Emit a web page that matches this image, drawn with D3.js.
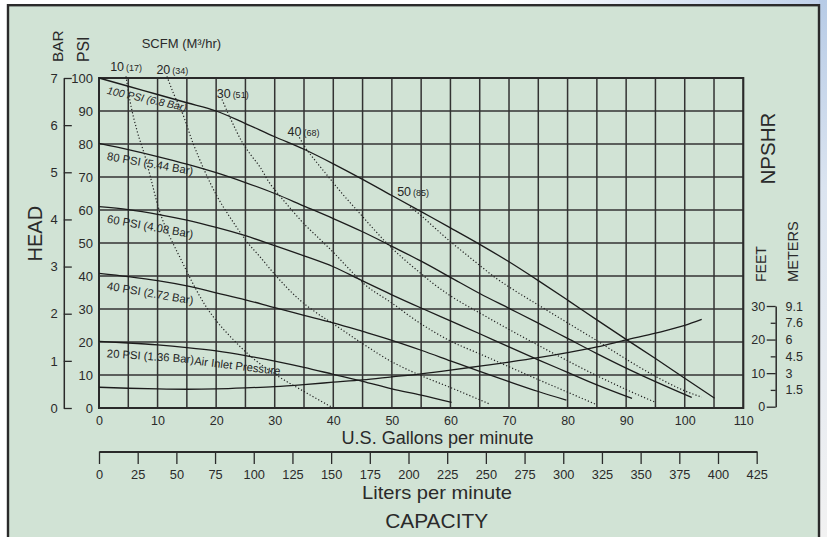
<!DOCTYPE html>
<html><head><meta charset="utf-8">
<script src="https://cdn.jsdelivr.net/npm/d3@7"></script>
<style>
html,body{margin:0;padding:0;background:#fff;}
svg{display:block;font-family:"Liberation Sans",Arial,Helvetica,sans-serif;}
</style></head><body>
<svg id="chart" width="827" height="537"></svg>
<script>
// ---------------- DATA ----------------
const gpmTicks   = [0,10,20,30,40,50,60,70,80,90,100,110];
const gpmGrid    = d3.range(0,111,5);
const literTicks = [0,25,50,75,100,125,150,175,200,225,250,275,300,325,350,375,400,425];
const psiTicks   = [0,10,20,30,40,50,60,70,80,90,100];
const barTicks   = [0,1,2,3,4,5,6,7];
const feetTicks  = [0,10,20,30];
const feetMinor  = [5,15,25];
const meterFeet  = [5,10,15,20,25,30];
const meterLbls  = ["1.5","3","4.5","6","7.6","9.1"];
const GAL_TO_L   = 3.785;

// head curves: [gpm, psi]
const psi100 = [[0,100],[5,97.5],[10,95],[15,92.5],[20,90],[25,86.2],[30,82.2],[35,78.4],[40,74],[45,69.3],[50,64.4],[55,59.5],[60,54.6],[65,49.6],[70,44.3],[75,38.6],[80,32.7],[85,26.7],[90,20.8],[95,15],[100,9],[105.1,3]];
const psi80  = [[0,80.2],[5,78.3],[10,76.2],[15,73.9],[20,71.3],[25,68.3],[30,65],[35,61.2],[40,57.4],[45,53.4],[50,49],[55,44.5],[60,39.6],[65,34.7],[70,30.2],[75,25.7],[80,21.1],[85,16.5],[90,12.1],[95,8],[101.2,3.2]];
const psi60  = [[0,61],[5,60.1],[10,58.7],[15,56.9],[20,54.7],[25,52.2],[30,49.2],[35,46.1],[40,42.8],[45,38.5],[50,34.3],[55,30.3],[60,26.4],[65,22.5],[70,18.5],[75,14.6],[80,10.8],[85,7],[91,2.9]];
const psi40  = [[0,40.8],[5,39.8],[10,38.6],[15,37],[20,34.9],[25,32.8],[30,30.4],[35,28.1],[40,25.8],[45,23.2],[50,20.5],[55,17.5],[60,14.3],[65,11.1],[70,8],[75,5],[79.8,2.4]];
const psi20  = [[0,20.2],[5,19.7],[10,19.1],[15,18.3],[20,17.3],[25,15.9],[30,14.2],[35,12.3],[40,10.2],[45,8.1],[50,5.8],[55,3.9],[60.2,1.7]];
// NPSHR: [gpm, feet]
const npshr  = [[0,5.8],[5,5.5],[10,5.3],[15,5.2],[20,5.3],[25,5.6],[30,6],[35,6.6],[40,7.3],[45,8],[50,8.9],[55,9.8],[60,10.9],[65,12.1],[70,13.3],[75,14.6],[80,16.1],[85,17.8],[90,19.9],[95,21.9],[100,24.2],[102.9,26]];
// air consumption curves: [gpm, psi]
const scfm10 = [[4.6,100.5],[5.3,93],[6.5,84],[7.9,76],[9,68.5],[10.1,61],[11.3,55],[12.6,50],[14,45],[15.8,38.5],[18,31.5],[20,26.5],[22.5,21.5],[26,15.5],[30,10.3],[35,5],[39.6,0.4]];
const scfm20 = [[11.6,100.5],[12.8,95],[14.1,90],[16,80.5],[18.1,71.6],[20.2,64],[22.1,58.5],[23.8,54],[25.2,50.5],[27.5,45.8],[30,40.5],[34.3,32.7],[37,29],[40,25.5],[45,19.5],[50,14],[55,9.8],[60,6.2],[66.7,1.2]];
const scfm30 = [[21,93.5],[22.5,87.5],[24.4,80.7],[26,76.5],[27.5,73],[29,68.5],[30.9,64.2],[32.9,60],[34.9,56],[37.5,51.5],[40,47.2],[42.5,42.5],[45,38],[50,31.8],[54.8,25.7],[60,20.3],[65,16.4],[70,12.5],[75,8.6],[80,4.8],[84.7,1.2]];
const scfm40 = [[34.2,82],[35.2,79],[37,74.8],[39.2,70],[41.5,65],[44,60],[46.5,55],[49.1,50],[52,45.2],[54.8,41],[57,37.8],[60,34],[65,28.8],[70,23.8],[75,19],[80,14.3],[85,9.8],[90,5.6],[94.9,1.8]];
const scfm50 = [[53.1,61],[55,58.3],[57.5,54.3],[60,50.4],[62.5,46.8],[65,43.2],[67.9,39.2],[70,36.7],[75,31.2],[80,25.8],[85,20.4],[90,14.8],[95,9.6],[100,5.2],[102.9,3.3]];
const scfmValues = ["10","20","30","40","50"];
const m3hrValues = ["(17)","(34)","(51)","(68)","(85)"];
const pressureNames = ["100 PSI (6.8 Bar)","80 PSI (5.44 Bar)","60 PSI (4.08 Bar)","40 PSI (2.72 Bar)","20 PSI (1.36 Bar)"];

// ---------------- SCALES ----------------
const svg = d3.select("#chart");
const x    = d3.scaleLinear().domain([0,110]).range([99,743.3]);
const yPsi = d3.scaleLinear().domain([0,100]).range([408,78]);
const yBar = d3.scaleLinear().domain([0,7]).range([408,78]);
const yFt  = d3.scaleLinear().domain([0,30]).range([406.7,306]);
const xL   = d3.scaleLinear().domain([0,425]).range([x(0), x(425/GAL_TO_L)]);

const INK = "#262626";

// ---------------- BACKGROUND / FRAME ----------------
const defs = svg.append("defs");
const g1 = defs.append("linearGradient").attr("id","sideBlue").attr("x1",0).attr("y1",0).attr("x2",0).attr("y2",1);
g1.append("stop").attr("offset","0%").attr("stop-color","#b7cbe6");
g1.append("stop").attr("offset","35%").attr("stop-color","#dbe4f0");
g1.append("stop").attr("offset","100%").attr("stop-color","#f2f2f2");
const g2 = defs.append("linearGradient").attr("id","topBlue").attr("x1",0).attr("y1",0).attr("x2",1).attr("y2",0);
g2.append("stop").attr("offset","0%").attr("stop-color","#ffffff");
g2.append("stop").attr("offset","100%").attr("stop-color","#bfd1ea");
svg.append("rect").attr("x",500).attr("y",0).attr("width",327).attr("height",6).attr("fill","url(#topBlue)");
svg.append("rect").attr("x",819).attr("y",0).attr("width",8).attr("height",537).attr("fill","url(#sideBlue)");

svg.append("rect").attr("x",8).attr("y",5.2).attr("width",811).attr("height",545)
  .attr("fill","#d1e3d5").attr("stroke","#2b2b2b").attr("stroke-width",2.4);

// ---------------- GRID ----------------
const grid = svg.append("g").attr("stroke","#333").attr("stroke-width",1.5);
grid.selectAll("line.v").data(gpmGrid).join("line").attr("class","v")
  .attr("x1",d=>x(d)).attr("x2",d=>x(d)).attr("y1",yPsi(100)).attr("y2",yPsi(0));
grid.selectAll("line.h").data(psiTicks).join("line").attr("class","h")
  .attr("x1",x(0)).attr("x2",x(110)).attr("y1",d=>yPsi(d)).attr("y2",d=>yPsi(d));
svg.append("rect").attr("x",x(0)).attr("y",yPsi(100)).attr("width",x(110)-x(0)).attr("height",yPsi(0)-yPsi(100))
  .attr("fill","none").attr("stroke","#2a2a2a").attr("stroke-width",2);

// ---------------- CURVES ----------------
const lineP = d3.line().x(d=>x(d[0])).y(d=>yPsi(d[1])).curve(d3.curveMonotoneX);
const lineF = d3.line().x(d=>x(d[0])).y(d=>yFt(d[1])).curve(d3.curveMonotoneX);
const curves = svg.append("g").attr("fill","none");
[scfm10,scfm20,scfm30,scfm40,scfm50].forEach(s=>{
  curves.append("path").attr("d",lineP(s)).attr("stroke","#222").attr("stroke-width",1.2)
    .attr("stroke-dasharray","1.2,2.1");
});
[psi100,psi80,psi60,psi40,psi20].forEach(s=>{
  curves.append("path").attr("d",lineP(s)).attr("stroke","#1c1c1c").attr("stroke-width",1.3);
});
curves.append("path").attr("d",lineF(npshr)).attr("stroke","#1c1c1c").attr("stroke-width",1.3);

// ---------------- CURVE LABELS ----------------
const pressLabelPos = [
  {g:1.3,p:95.2,a:12.5,size:10.5,italic:true},
  {g:1.3,p:75.2,a:10,size:11.3},
  {g:1.3,p:56.2,a:10.3,size:11.3},
  {g:1.3,p:35.9,a:9.8,size:11.3},
  {g:1.3,p:15.4,a:4,size:11.3}
];
pressureNames.forEach((t,i)=>{
  const o = pressLabelPos[i];
  svg.append("text").attr("transform",`translate(${x(o.g)},${yPsi(o.p)}) rotate(${o.a})`)
    .attr("font-size",o.size).attr("font-style",o.italic?"italic":"normal").attr("fill",INK).text(t);
});
svg.append("text").attr("transform",`translate(${x(16.2)},${yPsi(13.2)}) rotate(7)`)
  .attr("font-size",11.3).attr("fill",INK).text("Air Inlet Pressure");

const scfmLabelPos = [[1.9,102],[9.8,101.2],[20.1,94],[32.2,82.4],[50.9,64.2]];
scfmValues.forEach((v,i)=>{
  const t = svg.append("text").attr("x",x(scfmLabelPos[i][0])).attr("y",yPsi(scfmLabelPos[i][1]))
    .attr("font-size",12.5).attr("fill",INK);
  t.append("tspan").text(v);
  t.append("tspan").attr("dx",2).attr("font-size",9).text(m3hrValues[i]);
});

// ---------------- AXES ----------------
const fmt = d3.format("d");
function styleAxis(g, size){
  g.selectAll("text").attr("font-family","Liberation Sans, Arial, sans-serif").attr("font-size",size).attr("fill","#2a2a2a");
  g.selectAll("line").attr("stroke","#2a2a2a").attr("stroke-width",1.3);
  g.selectAll("path.domain").attr("stroke","#2a2a2a");
}
// gpm labels
const gx = svg.append("g").attr("transform",`translate(0,${yPsi(0)})`)
  .call(d3.axisBottom(x).tickValues(gpmTicks).tickFormat(fmt).tickSize(0).tickPadding(8));
gx.select(".domain").remove();
styleAxis(gx,12.5);

// liters axis
const gl = svg.append("g").attr("transform","translate(0,451.5)")
  .call(d3.axisBottom(xL).tickValues(literTicks).tickFormat(fmt).tickSizeInner(12.5).tickSizeOuter(0).tickPadding(5.8));
styleAxis(gl,12.8);
gl.select(".domain").attr("stroke-width",2.2);

// psi labels
const gp = svg.append("g").attr("transform",`translate(${x(0)},0)`)
  .call(d3.axisLeft(yPsi).tickValues(psiTicks).tickFormat(fmt).tickSize(0).tickPadding(6));
gp.select(".domain").remove();
styleAxis(gp,13);

// bar axis
const gb = svg.append("g").attr("transform","translate(63.8,0)")
  .call(d3.axisLeft(yBar).tickValues(barTicks).tickFormat(fmt).tickSizeInner(-8).tickSizeOuter(0).tickPadding(6));
styleAxis(gb,13);
gb.select(".domain").attr("stroke-width",1.5);

// feet axis
const gf = svg.append("g").attr("transform","translate(775.7,0)")
  .call(d3.axisLeft(yFt).tickValues(feetTicks).tickFormat(fmt).tickSizeInner(9).tickSizeOuter(0).tickPadding(1.5));
styleAxis(gf,12.5);
gf.select(".domain").attr("stroke-width",1.5);
const gfm = svg.append("g").attr("transform","translate(775.7,0)")
  .call(d3.axisLeft(yFt).tickValues(feetMinor).tickSize(5).tickFormat(""));
gfm.select(".domain").remove();
styleAxis(gfm,12);
svg.selectAll("text.m").data(meterFeet).join("text").attr("class","m")
  .attr("x",785.5).attr("y",d=>yFt(d)).attr("dy","0.36em").attr("font-size",12.5).attr("fill","#2a2a2a")
  .text((d,i)=>meterLbls[i]);

// ---------------- TITLES ----------------
function vtext(t,xb,yStart,size){
  svg.append("text").attr("transform",`translate(${xb},${yStart}) rotate(-90)`)
    .attr("font-size",size).attr("fill","#2a2a2a").text(t);
}
vtext("BAR",63.3,62,15.3);
vtext("PSI",89.3,62,15.8);
vtext("NPSHR",775,184.5,20.5);
vtext("FEET",765.5,282,14);
vtext("METERS",798.3,282,14.6);
svg.append("text").attr("transform","translate(41.5,233.7) rotate(-90)").attr("text-anchor","middle")
  .attr("font-size",20).attr("fill","#2a2a2a").text("HEAD");

svg.append("text").attr("x",141.7).attr("y",47.7).attr("font-size",13).attr("fill","#2a2a2a").text("SCFM (M³/hr)");

svg.append("text").attr("x",437.5).attr("y",444).attr("text-anchor","middle").attr("font-size",18)
  .attr("textLength",192).attr("lengthAdjust","spacingAndGlyphs").attr("fill","#2a2a2a").text("U.S. Gallons per minute");
svg.append("text").attr("x",437).attr("y",499).attr("text-anchor","middle").attr("font-size",19)
  .attr("textLength",150).attr("lengthAdjust","spacingAndGlyphs").attr("fill","#2a2a2a").text("Liters per minute");
svg.append("text").attr("x",436.7).attr("y",527.7).attr("text-anchor","middle").attr("font-size",21)
  .attr("textLength",103).attr("lengthAdjust","spacingAndGlyphs").attr("fill","#2a2a2a").text("CAPACITY");
</script>
</body></html>
